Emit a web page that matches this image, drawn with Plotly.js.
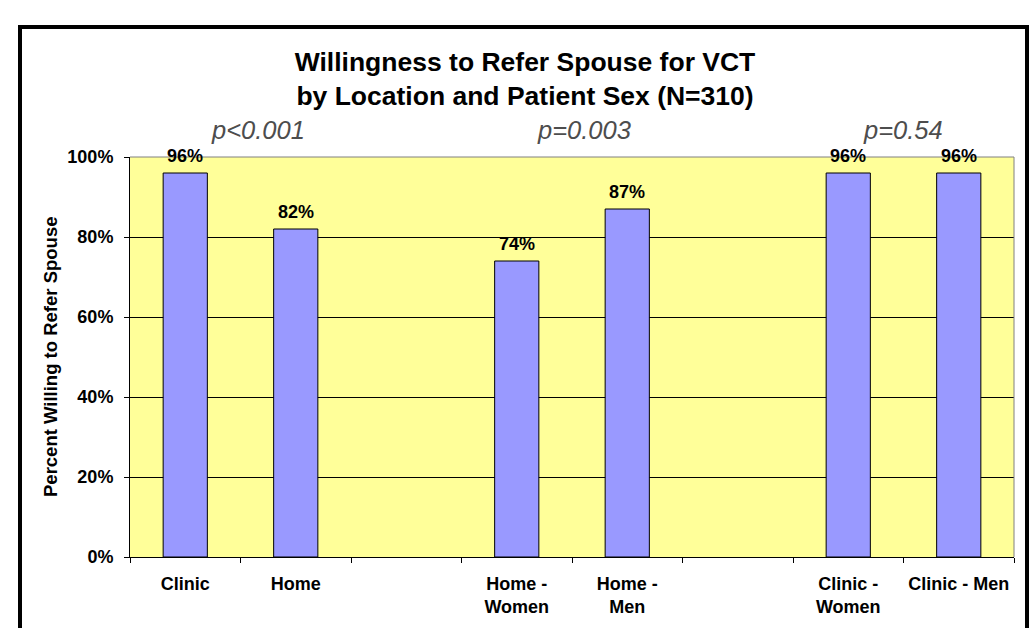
<!DOCTYPE html>
<html>
<head>
<meta charset="utf-8">
<script src="https://cdn.plot.ly/plotly-3.0.1.min.js"></script>
<style>
html,body{margin:0;padding:0;background:#fff;}
#chart{width:1036px;height:628px;}
</style>
</head>
<body>
<div id="chart"></div>
<script>
// ---- data ----
var categories = ["Clinic", "Home", " ", "Home -<br>Women", "Home -<br>Men", "  ", "Clinic -<br>Women", "Clinic - Men"];
var values = [0.96, 0.82, null, 0.74, 0.87, null, 0.96, 0.96];
var valueLabels = ["96%", "82%", "", "74%", "87%", "", "96%", "96%"];
var pTexts = ["p<0.001", "p=0.003", "p=0.54"];
var yTickVals = [0, 0.2, 0.4, 0.6, 0.8, 1.0];
var yTickText = ["0%", "20%", "40%", "60%", "80%", "100%"];
var titleText = "Willingness to Refer Spouse for VCT<br>by Location and Patient Sex (N=310)";
var yTitleText = "Percent Willing to Refer Spouse";

// ---- layout helpers ----
var FONT = "Arial, 'Liberation Sans', sans-serif";
var W = 1036, H = 628;
var mL = 130, mR = 22, mT = 157, mB = 71;
var pw = W - mL - mR, ph = H - mT - mB;
function px2x(X) { return (X - mL) / pw; }
function px2y(Y) { return (H - mB - Y) / ph; }

var annotations = [];
for (var i = 0; i < categories.length; i++) {
  if (values[i] === null) continue;
  annotations.push({
    x: categories[i], y: values[i], xref: 'x', yref: 'y',
    text: '<b>' + valueLabels[i] + '</b>', showarrow: false,
    yanchor: 'bottom', xanchor: 'center', yshift: 5,
    font: {family: FONT, size: 18, color: '#000'}
  });
}
var pX = [258, 584, 903];
for (var j = 0; j < pTexts.length; j++) {
  annotations.push({
    x: px2x(pX[j]), y: px2y(130), xref: 'paper', yref: 'paper',
    text: '<i>' + pTexts[j].replace('<', '&lt;') + '</i>', showarrow: false,
    xanchor: 'center', yanchor: 'middle',
    font: {family: FONT, size: 25.5, color: '#4d4d4d'}
  });
}
annotations.push({
  x: px2x(50), y: 0.5, xref: 'paper', yref: 'paper',
  text: '<b>' + yTitleText + '</b>', showarrow: false, textangle: -90,
  xanchor: 'center', yanchor: 'middle',
  font: {family: FONT, size: 18.5, color: '#000'}
});

var trace = {
  type: 'bar',
  x: categories,
  y: values,
  marker: {color: '#9999FF', line: {color: '#000', width: 1}},
  hoverinfo: 'none'
};

var layout = {
  width: W, height: H,
  margin: {l: mL, r: mR, t: mT, b: mB, pad: 0},
  paper_bgcolor: '#ffffff',
  plot_bgcolor: '#FFFF99',
  bargap: 0.6,
  showlegend: false,
  title: {
    text: '<b>' + titleText + '</b>',
    x: 525 / W, xanchor: 'center', xref: 'container',
    y: 1 - 71 / H, yanchor: 'middle', yref: 'container',
    font: {family: FONT, size: 26.5, color: '#000'}
  },
  xaxis: {
    type: 'category',
    tickson: 'boundaries',
    ticks: 'outside', ticklen: 5, tickcolor: '#000', tickwidth: 1,
    showline: true, linecolor: '#000', linewidth: 1,
    showgrid: false, zeroline: false,
    tickfont: {family: FONT, size: 18, color: '#000', weight: 'bold'},
    ticklabelstandoff: 10,
    fixedrange: true
  },
  yaxis: {
    range: [0, 1],
    tickvals: yTickVals, ticktext: yTickText,
    ticks: 'outside', ticklen: 5, tickcolor: '#000', tickwidth: 1,
    showline: true, linecolor: '#000', linewidth: 1,
    showgrid: true, gridcolor: '#000', gridwidth: 1,
    zeroline: false,
    tickfont: {family: FONT, size: 18, color: '#000', weight: 'bold'},
    ticklabelstandoff: 7,
    fixedrange: true
  },
  annotations: annotations,
  shapes: [
    {type: 'line', xref: 'paper', yref: 'paper', x0: 0, x1: 1, y0: 1, y1: 1,
     line: {color: '#808080', width: 1}, layer: 'above'},
    {type: 'line', xref: 'paper', yref: 'paper', x0: 1, x1: 1, y0: 0, y1: 1,
     line: {color: '#808080', width: 1}, layer: 'above'},
    {type: 'rect', xref: 'paper', yref: 'paper',
     x0: px2x(20), x1: px2x(1027), y0: px2y(700), y1: px2y(27),
     line: {color: '#000', width: 4}, fillcolor: 'rgba(0,0,0,0)', layer: 'above'}
  ]
};

Plotly.newPlot('chart', [trace], layout, {displayModeBar: false, staticPlot: true});
</script>
</body>
</html>
